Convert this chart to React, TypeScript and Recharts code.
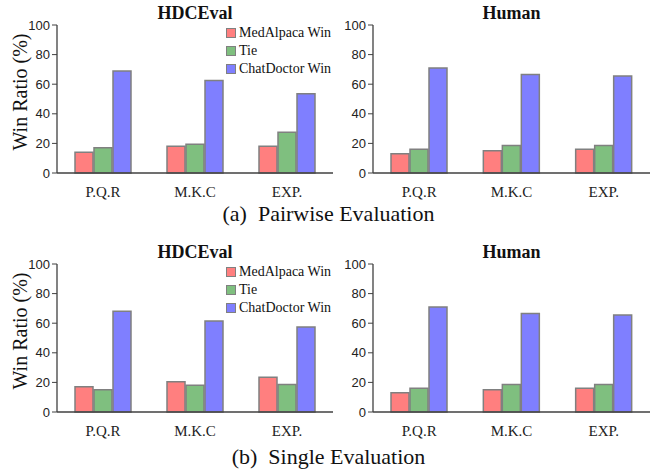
import React from "react";
import { BarChart, Bar, XAxis, YAxis, Legend } from "recharts";

const categories = ["P.Q.R", "M.K.C", "EXP."];
const seriesNames = ["MedAlpaca Win", "Tie", "ChatDoctor Win"];
const seriesColors = ["#FF7F7F", "#7FBF7F", "#7F7FFF"];
const yTicks = [0, 20, 40, 60, 80, 100];

// (a) pairwise evaluation
const pairHdcMed = [14, 18, 18];
const pairHdcTie = [17, 19.5, 27.5];
const pairHdcChat = [69, 62.5, 53.5];
const pairHumanMed = [13, 15, 16];
const pairHumanTie = [16, 18.5, 18.5];
const pairHumanChat = [71, 66.5, 65.5];

// (b) single evaluation
const singleHdcMed = [17, 20.5, 23.5];
const singleHdcTie = [15, 18, 18.5];
const singleHdcChat = [68, 61.5, 57.5];
const singleHumanMed = [13, 15, 16];
const singleHumanTie = [16, 18.5, 18.5];
const singleHumanChat = [71, 66.5, 65.5];

const SERIF = "'Liberation Serif', 'Times New Roman', serif";
const SANS = "'Liberation Sans', Arial, sans-serif";
const FRAME = "#404040";

function buildRows(med: number[], tie: number[], chat: number[]) {
  return categories.map((name, i) => ({ name, med: med[i], tie: tie[i], chat: chat[i] }));
}

const renderLegend = (props: any) => {
  const payload = [...(props.payload || [])].sort(
    (a: any, b: any) => seriesNames.indexOf(a.value) - seriesNames.indexOf(b.value)
  );
  return (
    <div style={{ fontFamily: SERIF, fontSize: 14, color: "#111", lineHeight: "18px" }}>
      {payload.map((entry: any) => (
        <div key={entry.value} style={{ display: "flex", alignItems: "center", whiteSpace: "nowrap" }}>
          <span
            style={{
              display: "inline-block",
              width: 8,
              height: 8,
              background: entry.color,
              border: "1px solid #808080",
              marginRight: 3,
            }}
          />
          {entry.value}
        </div>
      ))}
    </div>
  );
};

interface PanelProps {
  left: number;
  top: number;
  width: number;
  marginLeft: number;
  plotTop: number;
  title: string;
  rows: { name: string; med: number; tie: number; chat: number }[];
  showLegend?: boolean;
  showYLabel?: boolean;
}

function Panel({ left, top, width, marginLeft, plotTop, title, rows, showLegend, showYLabel }: PanelProps) {
  const keys = ["med", "tie", "chat"];
  return (
    <div style={{ position: "absolute", left, top, width, height: 200 }}>
      <div
        style={{
          position: "absolute",
          left: marginLeft + 40,
          width: width - marginLeft - 40 - 7,
          top: plotTop - 22,
          textAlign: "center",
          fontFamily: SERIF,
          fontWeight: "bold",
          fontSize: 18,
          color: "#111",
        }}
      >
        {title}
      </div>
      <BarChart
        width={width}
        height={200}
        data={rows}
        margin={{ top: plotTop, right: 7, left: marginLeft, bottom: 0 }}
        barSize={18}
        barGap={1}
      >
        <XAxis
          dataKey="name"
          height={200 - plotTop - 148}
          tickLine={false}
          tickSize={0}
          tickMargin={13}
          axisLine={{ stroke: FRAME, strokeWidth: 1.3 }}
          tick={{ fontFamily: SERIF, fontSize: 15, fill: "#222" }}
          interval={0}
        />
        <XAxis
          xAxisId="top"
          orientation="top"
          dataKey="name"
          height={0}
          tick={false}
          tickLine={false}
          axisLine={{ stroke: FRAME, strokeWidth: 1.3 }}
        />
        <YAxis
          domain={[0, 100]}
          ticks={yTicks}
          width={40}
          tickSize={5}
          tickMargin={2}
          tickLine={{ stroke: FRAME }}
          axisLine={{ stroke: FRAME, strokeWidth: 1.3 }}
          tick={{ fontFamily: SANS, fontSize: 13, fill: "#222" }}
          label={
            showYLabel
              ? {
                  content: (p: any) => {
                    const vb = p.viewBox || {};
                    const cx = marginLeft + 3;
                    const cy = (vb.y ?? plotTop) + (vb.height ?? 148) / 2 - 7;
                    return (
                      <text
                        x={cx}
                        y={cy}
                        transform={`rotate(-90, ${cx}, ${cy})`}
                        textAnchor="middle"
                        dominantBaseline="central"
                        style={{ fontFamily: SERIF, fontSize: 20, fill: "#111" }}
                      >
                        Win Ratio (%)
                      </text>
                    );
                  },
                }
              : undefined
          }
        />
        <YAxis
          yAxisId="right"
          orientation="right"
          domain={[0, 100]}
          width={0}
          tick={false}
          tickLine={false}
          axisLine={{ stroke: FRAME, strokeWidth: 1.3 }}
        />
        {showLegend && (
          <Legend
            layout="vertical"
            align="center"
            verticalAlign="middle"
            content={renderLegend}
            wrapperStyle={{ position: "absolute", left: 226, top: plotTop - 1, width: 115 }}
          />
        )}
        {keys.map((k, i) => (
          <Bar
            key={k}
            dataKey={k}
            name={seriesNames[i]}
            fill={seriesColors[i]}
            stroke="#808080"
            strokeWidth={1.5}
            isAnimationActive={false}
          />
        ))}
      </BarChart>
    </div>
  );
}

const captionStyle: React.CSSProperties = {
  position: "absolute",
  left: 0,
  width: 657,
  textAlign: "center",
  fontFamily: SERIF,
  fontSize: 22,
  color: "#111",
  whiteSpace: "pre",
};

export default function App() {
  return (
    <div style={{ position: "absolute", left: 0, top: 0, width: 657, height: 470, background: "#fff" }}>
      <Panel left={0} top={0} width={340} marginLeft={17} plotTop={25} title="HDCEval"
        rows={buildRows(pairHdcMed, pairHdcTie, pairHdcChat)} showLegend showYLabel />
      <Panel left={320} top={0} width={337} marginLeft={13} plotTop={25} title="Human"
        rows={buildRows(pairHumanMed, pairHumanTie, pairHumanChat)} />
      <div style={{ ...captionStyle, top: 201 }}>(a)  Pairwise Evaluation</div>
      <Panel left={0} top={240} width={340} marginLeft={17} plotTop={24} title="HDCEval"
        rows={buildRows(singleHdcMed, singleHdcTie, singleHdcChat)} showLegend showYLabel />
      <Panel left={320} top={240} width={337} marginLeft={13} plotTop={24} title="Human"
        rows={buildRows(singleHumanMed, singleHumanTie, singleHumanChat)} />
      <div style={{ ...captionStyle, top: 444 }}>(b)  Single Evaluation</div>
    </div>
  );
}
